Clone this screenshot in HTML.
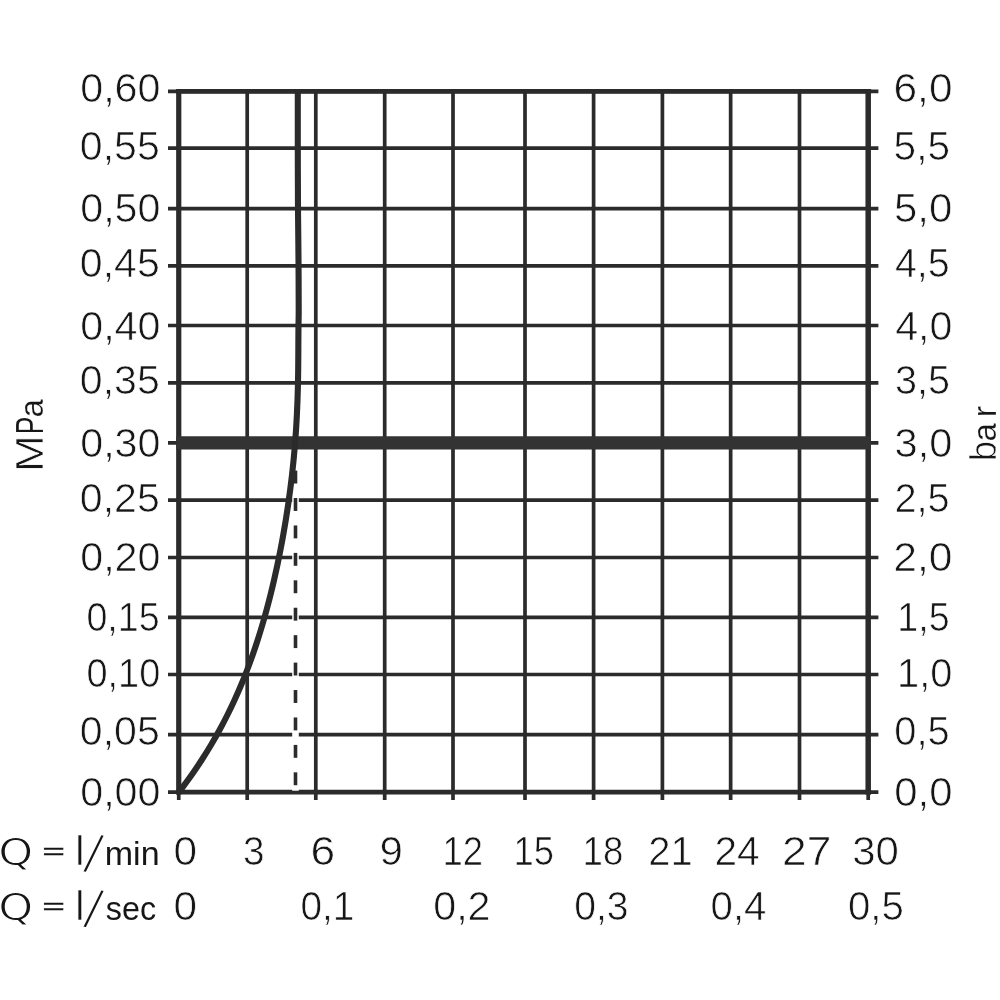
<!DOCTYPE html>
<html lang="de">
<head>
<meta charset="utf-8">
<title>Durchflussdiagramm</title>
<style>
html,body{margin:0;padding:0;background:#fff;}
body{width:1000px;height:1000px;overflow:hidden;}
svg{display:block;}
text{font-family:"Liberation Sans","DejaVu Sans",sans-serif;fill:#161616;}
text:not([stroke]){stroke:#fff;}
</style>
</head>
<body>
<svg width="1000" height="1000" viewBox="0 0 1000 1000">
<rect x="0" y="0" width="1000" height="1000" fill="#fff"/>

<g stroke="#2b2b2b" stroke-width="3.7" fill="none">
<line x1="168" y1="91.30" x2="878.4" y2="91.30"/>
<line x1="168" y1="148.10" x2="878.4" y2="148.10"/>
<line x1="168" y1="208.70" x2="878.4" y2="208.70"/>
<line x1="168" y1="265.80" x2="878.4" y2="265.80"/>
<line x1="168" y1="325.50" x2="878.4" y2="325.50"/>
<line x1="168" y1="382.80" x2="878.4" y2="382.80"/>
<line x1="168" y1="442.80" x2="878.4" y2="442.80"/>
<line x1="168" y1="500.20" x2="878.4" y2="500.20"/>
<line x1="168" y1="557.50" x2="878.4" y2="557.50"/>
<line x1="168" y1="617.40" x2="878.4" y2="617.40"/>
<line x1="168" y1="674.50" x2="878.4" y2="674.50"/>
<line x1="168" y1="734.65" x2="878.4" y2="734.65"/>
<line x1="168" y1="792.10" x2="878.4" y2="792.10"/>
<line x1="178.75" y1="89" x2="178.75" y2="800"/>
<line x1="247.20" y1="89" x2="247.20" y2="800"/>
<line x1="315.80" y1="89" x2="315.80" y2="800"/>
<line x1="384.70" y1="89" x2="384.70" y2="800"/>
<line x1="453.00" y1="89" x2="453.00" y2="800"/>
<line x1="525.00" y1="89" x2="525.00" y2="800"/>
<line x1="593.60" y1="89" x2="593.60" y2="800"/>
<line x1="662.40" y1="89" x2="662.40" y2="800"/>
<line x1="730.65" y1="89" x2="730.65" y2="800"/>
<line x1="799.50" y1="89" x2="799.50" y2="800"/>
<line x1="868.20" y1="89" x2="868.20" y2="800"/>
</g>
<line x1="295.5" y1="450" x2="295.5" y2="790.8" stroke="#fff" stroke-width="6.6"/>
<g fill="#2b2b2b">
<rect x="293.7" y="470.60" width="3.6" height="12.9"/>
<rect x="293.7" y="498.03" width="3.6" height="12.9"/>
<rect x="293.7" y="525.46" width="3.6" height="12.9"/>
<rect x="293.7" y="552.89" width="3.6" height="12.9"/>
<rect x="293.7" y="580.32" width="3.6" height="12.9"/>
<rect x="293.7" y="607.75" width="3.6" height="12.9"/>
<rect x="293.7" y="635.18" width="3.6" height="12.9"/>
<rect x="293.7" y="662.61" width="3.6" height="12.9"/>
<rect x="293.7" y="690.04" width="3.6" height="12.9"/>
<rect x="293.7" y="717.47" width="3.6" height="12.9"/>
<rect x="293.7" y="744.90" width="3.6" height="12.9"/>
<rect x="293.7" y="772.33" width="3.6" height="12.9"/>
</g>
<g stroke="#2b2b2b" fill="none">
<line x1="176.1" y1="91.3" x2="871.1" y2="91.3" stroke-width="4.8"/>
<line x1="176.1" y1="792.1" x2="871.1" y2="792.1" stroke-width="4.7"/>
<line x1="178.75" y1="89" x2="178.75" y2="794.5" stroke-width="5.2"/>
<line x1="868.2" y1="89" x2="868.2" y2="794.5" stroke-width="5.5"/>
<line x1="176.3" y1="442.9" x2="871" y2="442.9" stroke-width="13.2" stroke="#343334"/>
</g>
<rect x="292.2" y="789" width="6.6" height="1.7" fill="#fff"/>
<path d="M179.15 792.00 C181.22 789.17 187.83 780.33 191.59 775.00 C195.35 769.67 198.46 765.00 201.69 760.00 C204.92 755.00 208.02 750.00 210.99 745.00 C213.97 740.00 216.81 735.00 219.54 730.00 C222.27 725.00 224.88 720.00 227.38 715.00 C229.88 710.00 232.27 705.00 234.56 700.00 C236.85 695.00 239.03 690.00 241.13 685.00 C243.22 680.00 245.21 675.00 247.13 670.00 C249.05 665.00 250.87 660.00 252.63 655.00 C254.39 650.00 256.07 645.00 257.68 640.00 C259.29 635.00 260.82 630.00 262.30 625.00 C263.78 620.00 265.19 615.00 266.55 610.00 C267.91 605.00 269.21 600.00 270.46 595.00 C271.71 590.00 272.92 585.00 274.07 580.00 C275.22 575.00 276.32 570.00 277.38 565.00 C278.44 560.00 279.46 555.00 280.44 550.00 C281.42 545.00 282.34 540.00 283.23 535.00 C284.12 530.00 284.98 525.00 285.79 520.00 C286.60 515.00 287.37 510.00 288.10 505.00 C288.83 500.00 289.52 495.00 290.17 490.00 C290.82 485.00 291.43 480.00 292.00 475.00 C292.57 470.00 293.10 465.00 293.59 460.00 C294.08 455.00 294.52 450.00 294.93 445.00 C295.34 440.00 295.70 435.00 296.03 430.00 C296.35 425.00 296.63 420.00 296.88 415.00 C297.13 410.00 297.33 405.00 297.51 400.00 C297.69 395.00 297.83 390.00 297.94 385.00 C298.05 380.00 298.13 375.00 298.19 370.00 C298.25 365.00 298.28 360.00 298.31 355.00 C298.34 350.00 298.35 345.00 298.38 340.00 C298.41 335.00 298.43 330.00 298.48 325.00 C298.54 320.00 298.71 320.83 298.71 310.00 C298.71 299.17 298.62 276.67 298.50 260.00 C298.38 243.33 298.12 228.33 298.00 210.00 C297.88 191.67 297.83 170.17 297.80 150.00 C297.77 129.83 297.80 99.17 297.80 89.00" stroke="#2b2b2b" stroke-width="6.1" fill="none" stroke-linecap="butt" stroke-linejoin="round"/>
<text x="80.18" y="101.60" font-size="40.6" stroke-width="0.7" textLength="80.37" lengthAdjust="spacingAndGlyphs">0,60</text>
<text x="79.87" y="159.85" font-size="40.6" stroke-width="0.7" textLength="79.94" lengthAdjust="spacingAndGlyphs">0,55</text>
<text x="80.18" y="221.60" font-size="40.6" stroke-width="0.7" textLength="80.37" lengthAdjust="spacingAndGlyphs">0,50</text>
<text x="79.87" y="276.60" font-size="40.6" stroke-width="0.7" textLength="79.94" lengthAdjust="spacingAndGlyphs">0,45</text>
<text x="80.18" y="340.35" font-size="40.6" stroke-width="0.7" textLength="80.37" lengthAdjust="spacingAndGlyphs">0,40</text>
<text x="79.87" y="394.25" font-size="40.6" stroke-width="0.7" textLength="79.94" lengthAdjust="spacingAndGlyphs">0,35</text>
<text x="80.18" y="456.60" font-size="40.6" stroke-width="0.7" textLength="80.37" lengthAdjust="spacingAndGlyphs">0,30</text>
<text x="79.87" y="511.60" font-size="40.6" stroke-width="0.7" textLength="79.94" lengthAdjust="spacingAndGlyphs">0,25</text>
<text x="80.18" y="570.95" font-size="40.6" stroke-width="0.7" textLength="80.37" lengthAdjust="spacingAndGlyphs">0,20</text>
<text x="86.41" y="630.85" font-size="40.6" stroke-width="0.7" textLength="73.23" lengthAdjust="spacingAndGlyphs">0,15</text>
<text x="86.47" y="687.25" font-size="40.6" stroke-width="0.7" textLength="73.84" lengthAdjust="spacingAndGlyphs">0,10</text>
<text x="79.87" y="744.65" font-size="40.6" stroke-width="0.7" textLength="79.94" lengthAdjust="spacingAndGlyphs">0,05</text>
<text x="80.18" y="805.95" font-size="40.6" stroke-width="0.7" textLength="80.37" lengthAdjust="spacingAndGlyphs">0,00</text>
<text x="893.53" y="101.60" font-size="40.6" stroke-width="0.7" textLength="58.98" lengthAdjust="spacingAndGlyphs">6,0</text>
<text x="893.59" y="159.85" font-size="40.6" stroke-width="0.7" textLength="56.40" lengthAdjust="spacingAndGlyphs">5,5</text>
<text x="893.90" y="221.60" font-size="40.6" stroke-width="0.7" textLength="58.45" lengthAdjust="spacingAndGlyphs">5,0</text>
<text x="894.90" y="276.60" font-size="40.6" stroke-width="0.7" textLength="54.84" lengthAdjust="spacingAndGlyphs">4,5</text>
<text x="895.19" y="340.35" font-size="40.6" stroke-width="0.7" textLength="57.29" lengthAdjust="spacingAndGlyphs">4,0</text>
<text x="895.02" y="394.25" font-size="40.6" stroke-width="0.7" textLength="55.02" lengthAdjust="spacingAndGlyphs">3,5</text>
<text x="894.61" y="456.60" font-size="40.6" stroke-width="0.7" textLength="57.89" lengthAdjust="spacingAndGlyphs">3,0</text>
<text x="894.45" y="511.60" font-size="40.6" stroke-width="0.7" textLength="55.24" lengthAdjust="spacingAndGlyphs">2,5</text>
<text x="893.34" y="570.95" font-size="40.6" stroke-width="0.7" textLength="59.26" lengthAdjust="spacingAndGlyphs">2,0</text>
<text x="897.32" y="630.85" font-size="40.6" stroke-width="0.7" textLength="52.21" lengthAdjust="spacingAndGlyphs">1,5</text>
<text x="897.09" y="687.25" font-size="40.6" stroke-width="0.7" textLength="55.37" lengthAdjust="spacingAndGlyphs">1,0</text>
<text x="894.36" y="744.65" font-size="40.6" stroke-width="0.7" textLength="55.37" lengthAdjust="spacingAndGlyphs">0,5</text>
<text x="894.31" y="805.95" font-size="40.6" stroke-width="0.7" textLength="58.27" lengthAdjust="spacingAndGlyphs">0,0</text>
<text x="173.52" y="864.60" font-size="40.6" stroke-width="0.7" textLength="23.59" lengthAdjust="spacingAndGlyphs">0</text>
<text x="243.09" y="864.60" font-size="40.6" stroke-width="0.7" textLength="21.57" lengthAdjust="spacingAndGlyphs">3</text>
<text x="310.40" y="864.60" font-size="40.6" stroke-width="0.7" textLength="24.65" lengthAdjust="spacingAndGlyphs">6</text>
<text x="379.43" y="864.60" font-size="40.6" stroke-width="0.7" textLength="23.41" lengthAdjust="spacingAndGlyphs">9</text>
<text x="442.56" y="864.60" font-size="40.6" stroke-width="0.7" textLength="40.53" lengthAdjust="spacingAndGlyphs">12</text>
<text x="513.60" y="864.60" font-size="40.6" stroke-width="0.7" textLength="40.46" lengthAdjust="spacingAndGlyphs">15</text>
<text x="582.53" y="864.60" font-size="40.6" stroke-width="0.7" textLength="40.74" lengthAdjust="spacingAndGlyphs">18</text>
<text x="648.33" y="864.60" font-size="40.6" stroke-width="0.7" textLength="44.43" lengthAdjust="spacingAndGlyphs">21</text>
<text x="714.39" y="864.60" font-size="40.6" stroke-width="0.7" textLength="45.13" lengthAdjust="spacingAndGlyphs">24</text>
<text x="782.08" y="864.60" font-size="40.6" stroke-width="0.7" textLength="49.29" lengthAdjust="spacingAndGlyphs">27</text>
<text x="852.15" y="864.60" font-size="40.6" stroke-width="0.7" textLength="46.68" lengthAdjust="spacingAndGlyphs">30</text>
<text x="173.52" y="919.80" font-size="40.6" stroke-width="0.7" textLength="23.59" lengthAdjust="spacingAndGlyphs">0</text>
<text x="300.40" y="919.80" font-size="40.6" stroke-width="0.7" textLength="54.02" lengthAdjust="spacingAndGlyphs">0,1</text>
<text x="433.19" y="919.80" font-size="40.6" stroke-width="0.7" textLength="57.37" lengthAdjust="spacingAndGlyphs">0,2</text>
<text x="574.20" y="919.80" font-size="40.6" stroke-width="0.7" textLength="54.40" lengthAdjust="spacingAndGlyphs">0,3</text>
<text x="710.53" y="919.80" font-size="40.6" stroke-width="0.7" textLength="55.91" lengthAdjust="spacingAndGlyphs">0,4</text>
<text x="847.98" y="919.80" font-size="40.6" stroke-width="0.7" textLength="55.95" lengthAdjust="spacingAndGlyphs">0,5</text>
<text><tspan x="-1.89" y="864.60" font-size="37.6" style="font-family:'DejaVu Sans','Liberation Sans',sans-serif" stroke-width="1.0" textLength="34.95" lengthAdjust="spacingAndGlyphs">Q</tspan> <tspan x="42.55" y="858.65" font-size="22.0" stroke="#161616" stroke-width="0.5" textLength="22.28" lengthAdjust="spacingAndGlyphs">=</tspan> <tspan x="74.98" y="865.00" font-size="40.8" stroke-width="0.7" textLength="9.77" lengthAdjust="spacingAndGlyphs">l</tspan><tspan x="82.30" y="871.60" font-size="55.5" stroke-width="1.9" rotate="11.0">/</tspan><tspan x="104.79" y="864.60" font-size="32.6" stroke-width="0.0" textLength="54.82" lengthAdjust="spacingAndGlyphs">min</tspan></text>
<text><tspan x="-1.89" y="919.80" font-size="37.6" style="font-family:'DejaVu Sans','Liberation Sans',sans-serif" stroke-width="1.0" textLength="34.95" lengthAdjust="spacingAndGlyphs">Q</tspan> <tspan x="42.55" y="913.85" font-size="22.0" stroke="#161616" stroke-width="0.5" textLength="22.28" lengthAdjust="spacingAndGlyphs">=</tspan> <tspan x="74.98" y="920.20" font-size="40.8" stroke-width="0.7" textLength="9.77" lengthAdjust="spacingAndGlyphs">l</tspan><tspan x="82.30" y="926.80" font-size="55.5" stroke-width="1.9" rotate="11.0">/</tspan><tspan x="105.82" y="919.80" font-size="32.6" stroke-width="0.0" textLength="50.30" lengthAdjust="spacingAndGlyphs">sec</tspan></text>
<text transform="translate(43 471) rotate(-90)" y="0"><tspan x="-1.0" font-size="39.5" stroke-width="0.7" textLength="36.9" lengthAdjust="spacingAndGlyphs">M</tspan><tspan x="36.84" font-size="39.5" stroke-width="0.1" textLength="17.55" lengthAdjust="spacingAndGlyphs">P</tspan><tspan x="53.6" font-size="33" stroke-width="0.2" textLength="18.35" lengthAdjust="spacingAndGlyphs">a</tspan></text>
<text transform="translate(995.7 462) rotate(-90)" y="0"><tspan x="0.64" font-size="37.0" stroke-width="0.6" textLength="20.37" lengthAdjust="spacingAndGlyphs">b</tspan><tspan x="20.6" font-size="33" stroke-width="0.2" textLength="18.35" lengthAdjust="spacingAndGlyphs">a</tspan><tspan x="44.74" font-size="33" stroke-width="0.2" textLength="11.3" lengthAdjust="spacingAndGlyphs">r</tspan></text>
</svg>
</body>
</html>
